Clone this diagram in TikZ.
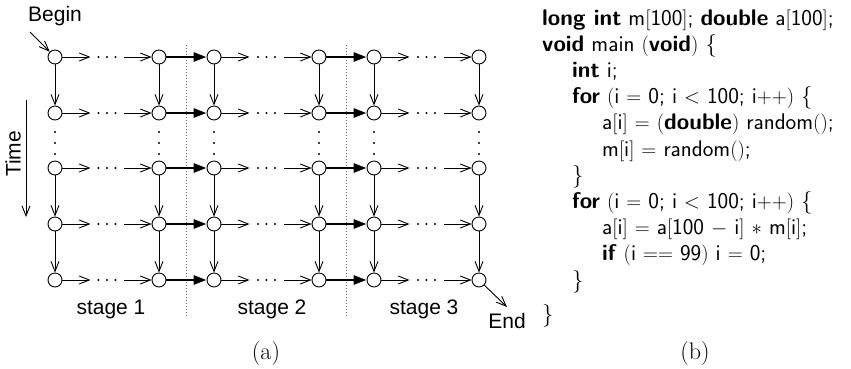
\documentclass[tikz,border=0pt]{standalone}
\usepackage{fontspec}
\newfontfamily\helv{Liberation Sans}
\usetikzlibrary{arrows.meta}
\newcommand\opar{\ensuremath{(}}
\newcommand\cpar{\ensuremath{)}}
\newcommand\obr{\ensuremath{[}}
\newcommand\cbr{\ensuremath{]}}
\begin{document}
\begin{tikzpicture}[x=1pt,y=-1pt,
  st/.style={circle,draw,line width=0.9pt,minimum size=14pt,inner sep=0pt,fill=white},
  thinarr/.style={line width=0.9pt,-{Straight Barb[length=10pt,width=8pt]}},
  boldarr/.style={line width=2.7pt,-{Triangle[length=13pt,width=9pt]}},
  lbl/.style={font=\helv\fontsize{21}{25}\selectfont,inner sep=0pt},
  captxt/.style={font=\fontsize{24}{28}\selectfont,inner sep=0pt,anchor=base},
  code/.style={anchor=base west,inner sep=0pt,font=\sffamily\fontsize{22.6}{26}\selectfont},
  sep/.style={dotted,line width=1pt,black!60},
  dotmark/.style={fill=black}
]
\useasboundingbox (0,0) rectangle (851,368);
% nodes
\foreach \c/\x in {1/55,2/159,3/214,4/319,5/374,6/479}{
  \foreach \r/\y in {1/57,2/113,3/168,4/224,5/280}{
    \node[st] (n\r\c) at (\x,\y) {};
  }
  \foreach \y in {132,143,154}{\fill[dotmark] (\x,\y) circle (1.1pt);}
}
% separators
\draw[sep] (186,45) -- (186,318);
\draw[sep] (346,45) -- (346,318);
% horizontal
\foreach \r in {1,...,5}{
  \foreach \a/\b in {1/2,3/4,5/6}{
    \draw[thinarr] (n\r\a.east) -- ([xshift=28pt]n\r\a.east);
    \draw[thinarr] ([xshift=-28pt]n\r\b.west) -- (n\r\b.west);
    \path (n\r\a) -- coordinate[midway] (m\r\a) (n\r\b);
    \foreach \d in {-8.5,0,8.5}{\fill[dotmark] ([xshift=\d pt]m\r\a) circle (1.1pt);}
  }
  \draw[boldarr] (n\r2) -- (n\r3);
  \draw[boldarr] (n\r4) -- (n\r5);
}
% vertical
\foreach \c in {1,...,6}{
  \draw[thinarr] (n1\c) -- (n2\c);
  \draw[thinarr] (n3\c) -- (n4\c);
  \draw[thinarr] (n4\c) -- (n5\c);
}
% begin / end / time
\node[lbl] (begin) at (55,16) {Begin};
\coordinate (bs) at (30,32);
\draw[thinarr] (bs) -- (n11);
\node[lbl,anchor=base] (endlbl) at (507,328) {End};
\coordinate (ee) at (507,307);
\draw[thinarr] (n56) -- (ee);
\node[lbl,rotate=90] (time) at (13,154) {Time};
\coordinate (t0) at (26,100);
\coordinate (t1) at (26,217);
\draw[thinarr] (t0) -- (t1);
% stages
\node[lbl,anchor=base] (s1) at (111,314) {stage 1};
\node[lbl,anchor=base] (s2) at (272,314) {stage 2};
\node[lbl,anchor=base] (s3) at (424,314) {stage 3};
% captions
\node[captxt] (capa) at (266,359) {(a)};
\node[captxt] (capb) at (695,359) {(b)};
% code
\node[code] (c1) at (542,25) {\textbf{long int} m\obr100\cbr; \textbf{double} a\obr100\cbr;};
\node[code] (c2) at (542,51.2) {\textbf{void} main \opar\textbf{void}\cpar\ \{};
\node[code] (c3) at (572,77.4) {\textbf{int} i;};
\node[code] (c4) at (572,103.6) {\textbf{for} \opar i $=$ 0; i $<$ 100; i$++$\cpar\ \{};
\node[code] (c5) at (602,129.8) {a\obr i\cbr\ $=$ \opar\textbf{double}\cpar\ random\opar\cpar;};
\node[code] (c6) at (602,156) {m\obr i\cbr\ $=$ random\opar\cpar;};
\node[code] (c7) at (572,182.2) {\}};
\node[code] (c8) at (572,208.4) {\textbf{for} \opar i $=$ 0; i $<$ 100; i$++$\cpar\ \{};
\node[code] (c9) at (602,234.6) {a\obr i\cbr\ $=$ a\obr100 $-$ i\cbr\ $*$ m\obr i\cbr;};
\node[code] (c10) at (602,260.8) {\textbf{if} \opar i $==$ 99\cpar\ i $=$ 0;};
\node[code] (c11) at (572,287) {\}};
\node[code] (c12) at (542,321) {\}};
\end{tikzpicture}
\end{document}
